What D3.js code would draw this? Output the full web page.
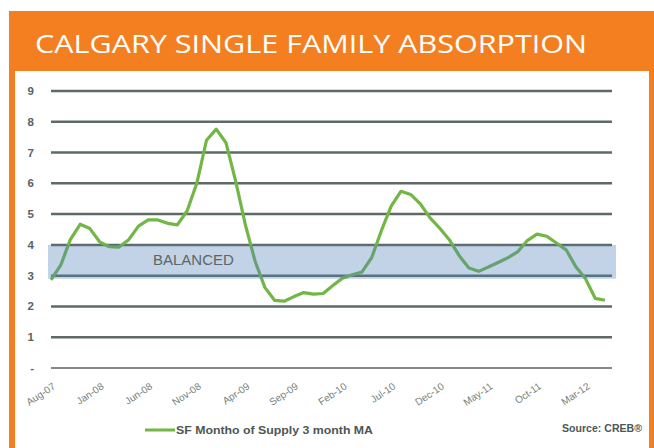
<!DOCTYPE html>
<html>
<head>
<meta charset="utf-8">
<script src="https://cdn.jsdelivr.net/npm/d3@7"></script>
<style>
  html, body { margin: 0; padding: 0; background: #fff; }
  svg { display: block; }
</style>
</head>
<body>
<div id="chart"></div>
<script>
// Calgary single family absorption – months of supply, 3 month moving average

const months = [
  'Aug-07','Sep-07','Oct-07','Nov-07','Dec-07','Jan-08','Feb-08','Mar-08','Apr-08','May-08','Jun-08','Jul-08',
  'Aug-08','Sep-08','Oct-08','Nov-08','Dec-08','Jan-09','Feb-09','Mar-09','Apr-09','May-09','Jun-09','Jul-09',
  'Aug-09','Sep-09','Oct-09','Nov-09','Dec-09','Jan-10','Feb-10','Mar-10','Apr-10','May-10','Jun-10','Jul-10',
  'Aug-10','Sep-10','Oct-10','Nov-10','Dec-10','Jan-11','Feb-11','Mar-11','Apr-11','May-11','Jun-11','Jul-11',
  'Aug-11','Sep-11','Oct-11','Nov-11','Dec-11','Jan-12','Feb-12','Mar-12','Apr-12','May-12'
];

const supplyMA = [
  2.86, 3.34, 4.18, 4.67, 4.53, 4.10, 3.94, 3.93, 4.17, 4.61, 4.81, 4.81,
  4.70, 4.65, 5.10, 6.00, 7.40, 7.76, 7.32, 6.07, 4.65, 3.47, 2.62, 2.20,
  2.17, 2.32, 2.45, 2.40, 2.42, 2.68, 2.92, 3.03, 3.12, 3.59, 4.47, 5.26,
  5.74, 5.64, 5.33, 4.88, 4.54, 4.16, 3.65, 3.25, 3.14, 3.28, 3.43, 3.58,
  3.77, 4.14, 4.35, 4.28, 4.06, 3.84, 3.29, 2.90, 2.26, 2.20
];

const xTickLabels = ['Aug-07','Jan-08','Jun-08','Nov-08','Apr-09','Sep-09','Feb-10','Jul-10','Dec-10','May-11','Oct-11','Mar-12'];
const yTicks = [0, 1, 2, 3, 4, 5, 6, 7, 8, 9];
const yTickLabels = ['-', '1', '2', '3', '4', '5', '6', '7', '8', '9'];
const balancedBand = [2.9, 4];

const W = 654, H = 448;
const svg = d3.select('#chart').append('svg').attr('width', W).attr('height', H);

// Orange frame and white panel
svg.append('rect').attr('x', 9).attr('y', 11).attr('width', W).attr('height', H)
  .attr('fill', '#f47f21');
svg.append('rect').attr('x', 15).attr('y', 71).attr('width', 634).attr('height', H)
  .attr('fill', '#ffffff');

svg.append('text')
  .attr('x', 35).attr('y', 53)
  .attr('textLength', 552).attr('lengthAdjust', 'spacingAndGlyphs')
  .attr('fill', '#ffffff')
  .attr('font-family', '"Open Sans", Lato, sans-serif')
  .attr('font-weight', 500)
  .attr('font-size', '25px')
  .text('CALGARY SINGLE FAMILY ABSORPTION');

const x = d3.scalePoint().domain(months).range([51, 605]);
const y = d3.scaleLinear().domain([0, 9]).range([368, 91]);

// Grid lines
svg.append('g').selectAll('line')
  .data(yTicks.filter(v => v > 0))
  .join('line')
  .attr('x1', 51).attr('x2', 612)
  .attr('y1', d => y(d)).attr('y2', d => y(d))
  .attr('stroke', '#5d6a66')
  .attr('stroke-width', 2.5);

svg.append('line')
  .attr('x1', 51).attr('x2', 612)
  .attr('y1', y(0)).attr('y2', y(0))
  .attr('stroke', '#858a88')
  .attr('stroke-width', 2);

// Y tick labels
svg.append('g').selectAll('text')
  .data(yTicks)
  .join('text')
  .attr('x', 34)
  .attr('y', d => y(d) + 4)
  .attr('text-anchor', 'end')
  .attr('fill', '#56635f')
  .attr('font-family', '"Liberation Sans", Arial, sans-serif')
  .attr('font-weight', 'bold')
  .attr('font-size', '11.5px')
  .text((d, i) => yTickLabels[i]);

// X tick labels
svg.append('g').selectAll('text')
  .data(xTickLabels)
  .join('text')
  .attr('transform', d => `translate(${x(d) + 5},${388}) rotate(-34)`)
  .attr('text-anchor', 'end')
  .attr('fill', '#76807c')
  .attr('font-family', '"Liberation Sans", Arial, sans-serif')
  .attr('font-size', '10px')
  .text(d => d);

// Series line
const line = d3.line()
  .x((d, i) => x(months[i]))
  .y(d => y(d));

svg.append('path')
  .datum(supplyMA)
  .attr('d', line)
  .attr('fill', 'none')
  .attr('stroke', '#72b645')
  .attr('stroke-width', 3.2)
  .attr('stroke-linejoin', 'round');

// Balanced band overlay (semi-transparent, drawn over line)
svg.append('rect')
  .attr('x', 48).attr('width', 568)
  .attr('y', y(balancedBand[1]))
  .attr('height', y(balancedBand[0]) - y(balancedBand[1]))
  .attr('fill', '#4f81bd')
  .attr('fill-opacity', 0.35);

svg.append('text')
  .attr('x', 153).attr('y', 265)
  .attr('fill', '#5a6764')
  .attr('font-family', '"Liberation Sans", Arial, sans-serif')
  .attr('font-size', '15px')
  .text('BALANCED');

// Legend
svg.append('line')
  .attr('x1', 145).attr('x2', 175)
  .attr('y1', 430).attr('y2', 430)
  .attr('stroke', '#72b645')
  .attr('stroke-width', 3);

svg.append('text')
  .attr('x', 176).attr('y', 434)
  .attr('textLength', 197).attr('lengthAdjust', 'spacingAndGlyphs')
  .attr('fill', '#4d5753')
  .attr('font-family', '"Liberation Sans", Arial, sans-serif')
  .attr('font-weight', 'bold')
  .attr('font-size', '11px')
  .text('SF Montho of Supply 3 month MA');

svg.append('text')
  .attr('x', 562).attr('y', 432)
  .attr('textLength', 80).attr('lengthAdjust', 'spacingAndGlyphs')
  .attr('fill', '#4d5753')
  .attr('font-family', '"Liberation Sans", Arial, sans-serif')
  .attr('font-weight', 'bold')
  .attr('font-size', '11px')
  .text('Source: CREB®');
</script>
</body>
</html>
